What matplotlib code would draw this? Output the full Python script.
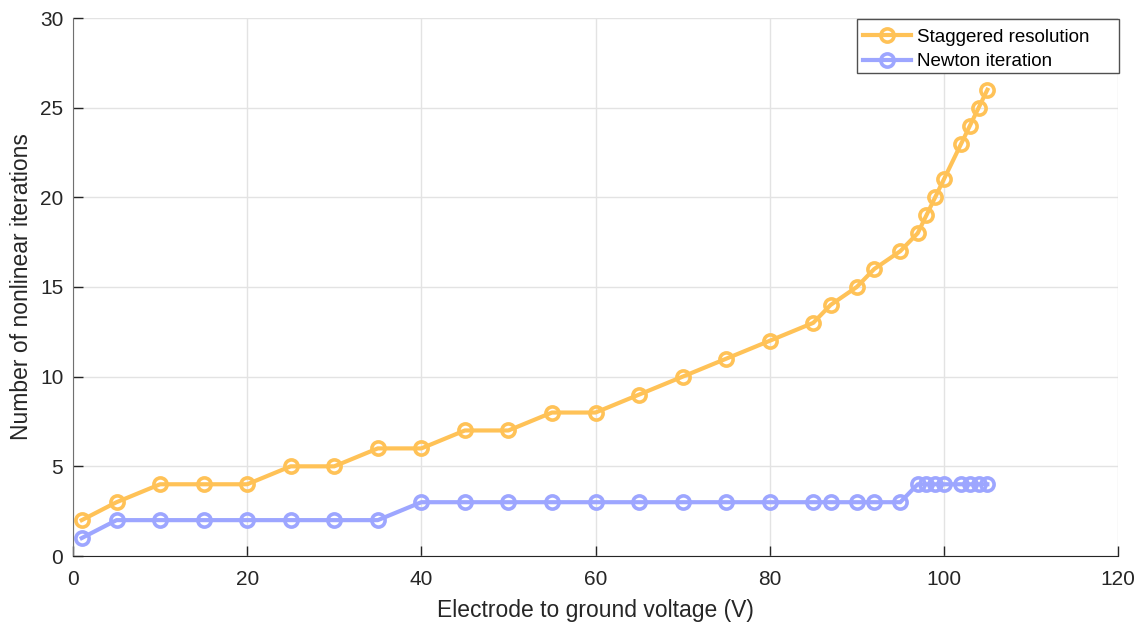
import matplotlib
matplotlib.use("Agg")
import matplotlib.pyplot as plt
from matplotlib.patches import Rectangle

plt.rcParams['font.family'] = ['Liberation Sans', 'DejaVu Sans']

voltage = [1, 5, 10, 15, 20, 25, 30, 35, 40, 45, 50, 55, 60, 65, 70, 75, 80,
           85, 87, 90, 92, 95, 97, 98, 99, 100, 102, 103, 104, 105]
staggered = [2, 3, 4, 4, 4, 5, 5, 6, 6, 7, 7, 8, 8, 9, 10, 11, 12,
             13, 14, 15, 16, 17, 18, 19, 20, 21, 23, 24, 25, 26]
newton = [1, 2, 2, 2, 2, 2, 2, 2, 3, 3, 3, 3, 3, 3, 3, 3, 3,
          3, 3, 3, 3, 3, 4, 4, 4, 4, 4, 4, 4, 4]

W, H = 1145, 626
fig = plt.figure(figsize=(W/100, H/100), dpi=100)
ax = fig.add_axes([73/W, 1 - 556/H, (1118-73)/W, (556-18)/H])

ax.plot(voltage, staggered, '-o', color='#FFC257', lw=3, ms=9.5, mew=2.6,
        mfc='none', label='Staggered resolution')
ax.plot(voltage, newton, '-o', color='#9DA6FF', lw=3, ms=9.5, mew=2.6,
        mfc='none', label='Newton iteration')

ax.set_xlim(0, 120)
ax.set_ylim(0, 30)
ax.set_xticks(range(0, 121, 20))
ax.set_yticks(range(0, 31, 5))
ax.grid(True, color='#E3E3E3', lw=1)
ax.set_axisbelow(True)
ax.spines['top'].set_visible(False)
ax.spines['right'].set_visible(False)
ax.spines['bottom'].set_color('#262626')
ax.spines['left'].set_color('#707070')
ax.tick_params(direction='in', length=7, width=1, labelsize=15,
               colors='#262626')
ax.tick_params(axis='x', pad=10)
ax.tick_params(axis='y', pad=7)
ax.set_xlabel('Electrode to ground voltage (V)', fontsize=16.5, color='#262626',
              labelpad=7)
ax.set_ylabel('Number of nonlinear iterations', fontsize=16.5, color='#262626',
              labelpad=5)

frame = Rectangle((857/W, 1 - 73/H), (1119-857)/W, (73-19)/H,
                  transform=fig.transFigure, facecolor='white',
                  edgecolor='#505050', lw=1, zorder=4)
fig.patches.append(frame)

handles, labels = ax.get_legend_handles_labels()
leg = fig.legend(handles, labels, loc='upper left',
                 bbox_to_anchor=(853/W, 1 - 19/H), borderaxespad=0,
                 fontsize=13.5, frameon=False, handlelength=2.6,
                 handletextpad=0.3, labelspacing=0.41, borderpad=0.51)
leg.set_zorder(5)

fig.savefig('out.png', dpi=100)
